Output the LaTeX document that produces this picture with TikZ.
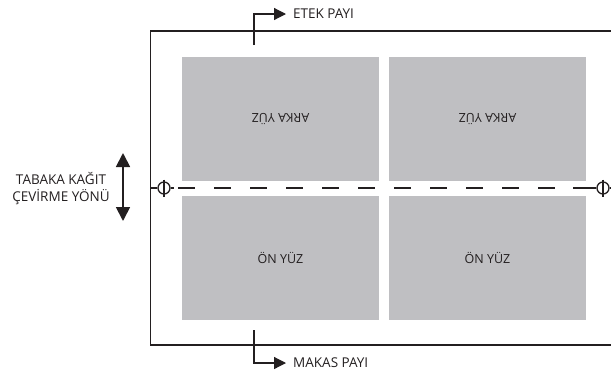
\documentclass[tikz,border=0pt]{standalone}
\usepackage{fontspec}
\setmainfont{Open Sans}
\usetikzlibrary{arrows.meta}
\definecolor{sheetgray}{RGB}{191,191,194}
\definecolor{ink}{RGB}{35,31,32}
\tikzset{
  page/.style={fill=sheetgray, draw=none, minimum width=197pt, minimum height=124pt, inner sep=0pt,
    font=\fontsize{12.5}{14}\selectfont, text=ink},
  frameline/.style={draw=ink, line width=1.3pt},
  regmark/.style={circle, draw=ink, line width=1.3pt, minimum size=12pt, inner sep=0pt},
  cutline/.style={draw=ink, line width=1.4pt},
  pointer/.style={draw=ink, line width=1.2pt, -{Triangle[length=12pt,width=12pt]}},
  flipper/.style={draw=ink, line width=1.8pt, {Triangle[length=14pt,width=14pt]}-{Triangle[length=14pt,width=14pt]}},
  caption/.style={font=\fontsize{13.5}{17}\selectfont, text=ink, inner sep=0pt}
}
\begin{document}
\begin{tikzpicture}[x=1pt,y=-1pt]
\useasboundingbox (0,0) rectangle (611,373);

% sheet outline (runs off the right side)
\draw[frameline] (611,31) -- (150.5,31) -- (150.5,345) -- (611,345);

% four printed pages
\node[page, rotate=180] (tl) at (280.5,119) {ARKA YÜZ};
\node[page, rotate=180] (tr) at (487.5,119) {ARKA YÜZ};
\node[page] (bl) at (280.5,257.5) {ÖN YÜZ};
\node[page] (br) at (487.5,257.5) {ÖN YÜZ};

% registration marks and fold line
\node[regmark] (rl) at (164,188) {};
\node[regmark] (rr) at (603,188) {};
\coordinate (fl) at (150.5,188);
\draw[ink, line width=1.3pt] ([yshift=8.5pt]rl.center) -- ([yshift=-8.5pt]rl.center);
\draw[ink, line width=1.3pt] ([yshift=8.5pt]rr.center) -- ([yshift=-8.5pt]rr.center);
\draw[cutline] (fl) -- (rl.west) (rl.east) -- ++(3,0);
\coordinate (ds) at (178,188);
\coordinate (de) at (573,188);
\draw[cutline, dash pattern=on 17pt off 19pt] (ds) -- (de);
\draw[cutline] (de) -- (rr.west) (rr.east) -- ++(8,0);

% gripper margin
\coordinate (e0) at (254,45);
\coordinate (e1) at (254,14);
\coordinate (e2) at (286,14);
\draw[pointer] (e0) -- (e1) -- (e2);
\node[caption, anchor=west] (etek) at (293,14) {ETEK PAYI};

% trim margin
\coordinate (m0) at (254,330);
\coordinate (m1) at (254,363);
\coordinate (m2) at (286,363);
\draw[pointer] (m0) -- (m1) -- (m2);
\node[caption, anchor=west] (makas) at (293,363) {MAKAS PAYI};

% turning direction
\coordinate (a0) at (123,153);
\coordinate (a1) at (123,221);
\draw[flipper] (a0) -- (a1);
\node[caption, align=center] (yon) at (61,189) {TABAKA KAĞIT\\ÇEVİRME YÖNÜ};
\end{tikzpicture}
\end{document}
